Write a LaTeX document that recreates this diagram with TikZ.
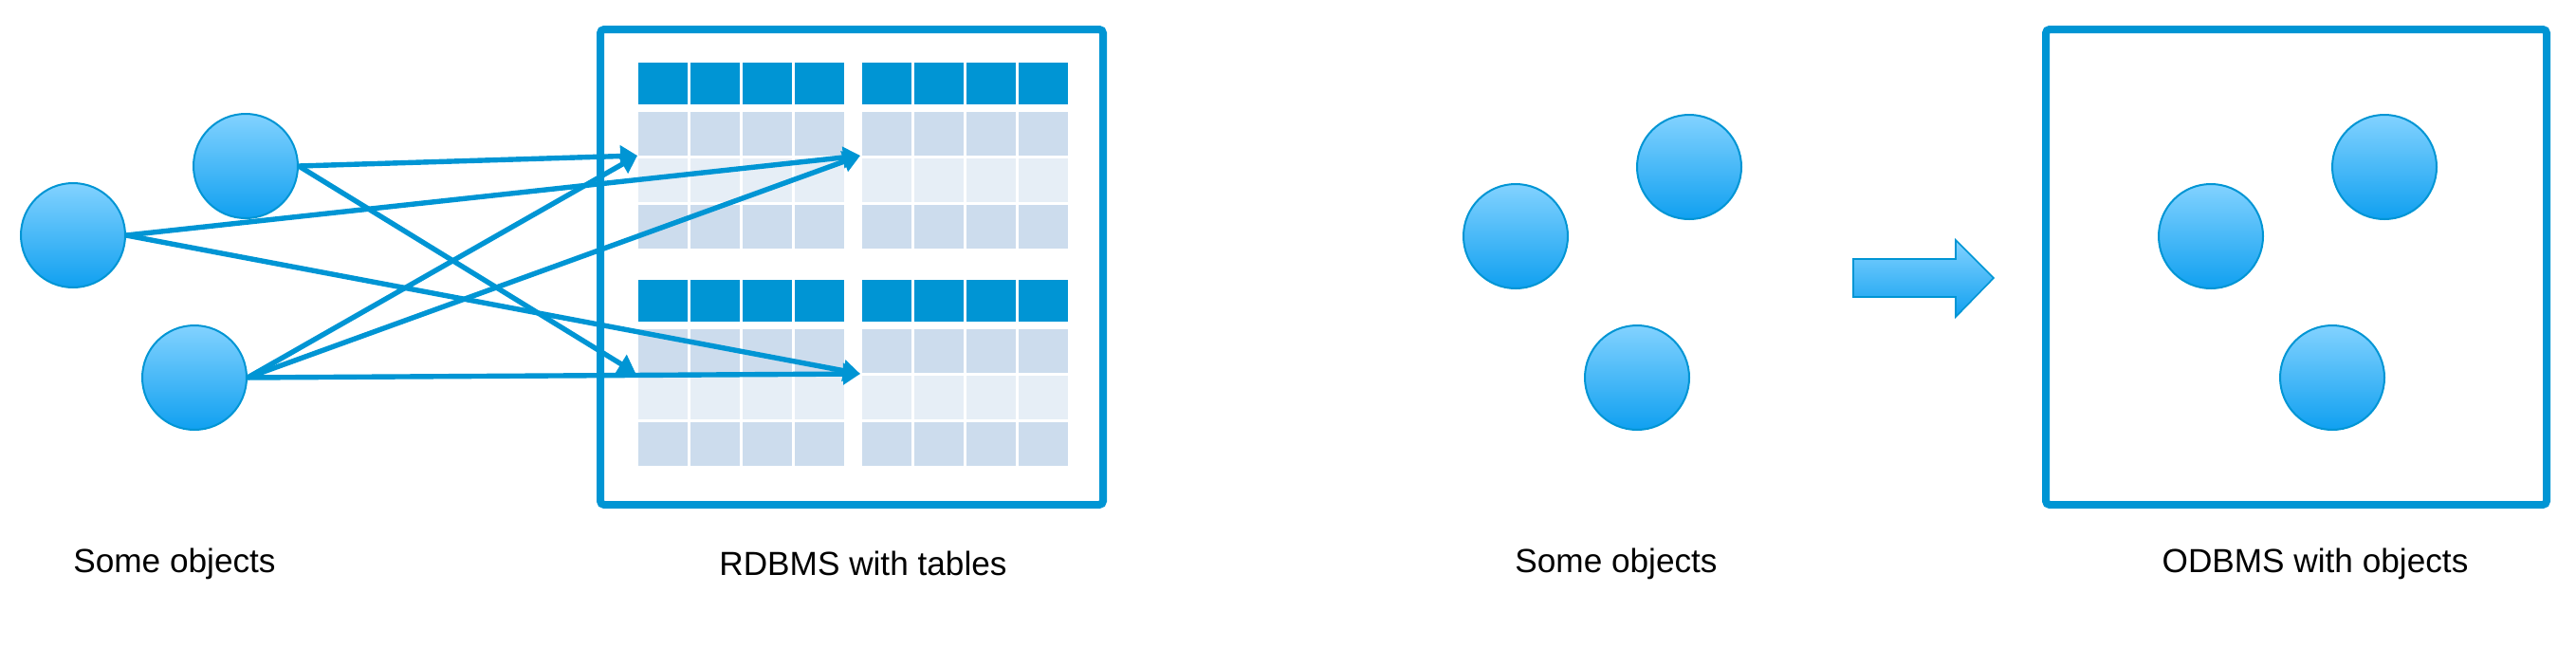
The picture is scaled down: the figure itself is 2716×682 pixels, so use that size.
\documentclass[tikz,border=0pt]{standalone}
\usepackage{fontspec}
\setmainfont{Liberation Sans}
\usepackage{xcolor}
\usetikzlibrary{arrows.meta}

\definecolor{dbblue}{RGB}{0,149,212}
\definecolor{rowdark}{RGB}{204,220,237}
\definecolor{rowlight}{RGB}{230,238,246}
\definecolor{objtop}{RGB}{130,210,255}
\definecolor{objbot}{RGB}{16,160,240}

\begin{document}
\begin{tikzpicture}[x=0.5pt, y=-0.5pt,
    obj/.style = {circle, draw=dbblue, line width=1pt, inner sep=0pt,
      minimum size=55pt, top color=objtop, bottom color=objbot},
    link/.style = {draw=dbblue, line width=2.7pt,
      -{Triangle[length=9pt,width=11pt]}},
    dbbox/.style = {draw=dbblue, line width=4pt, rounded corners=2pt},
    caption/.style = {font=\fontsize{17.6}{22}\selectfont}]
  \useasboundingbox (0,0) rectangle (2716,682);

  % tables
  \foreach \tx/\ty in {673/66, 909/66, 673/295, 909/295} {
    \foreach \c in {0,...,3} {
      \fill[dbblue] (\tx+55*\c,\ty) rectangle ++(52,44);
      \fill[rowdark] (\tx+55*\c,\ty+52) rectangle ++(52,46);
      \fill[rowlight] (\tx+55*\c,\ty+101) rectangle ++(52,46);
      \fill[rowdark] (\tx+55*\c,\ty+150) rectangle ++(52,46);
    }
  }
  \draw[dbbox] (633,31) rectangle (1163,532);
  \draw[dbbox] (2157,31) rectangle (2685,532);

  % objects
  \node[obj] (left) at (77,248) {};
  \node[obj] (top) at (259,175) {};
  \node[obj] (bottom) at (205,398) {};
  \node[obj] (freeA) at (1598,249) {};
  \node[obj] (freeB) at (1781,176) {};
  \node[obj] (freeC) at (1726,398) {};
  \node[obj] (dbA) at (2331,249) {};
  \node[obj] (dbB) at (2514,176) {};
  \node[obj] (dbC) at (2459,398) {};

  \coordinate (t1) at (672,164);
  \coordinate (t2) at (907,164);
  \coordinate (t3) at (670,393);
  \coordinate (t4) at (907,394);

  \draw[link] (top.east) -- (t1);
  \draw[link] (top.east) -- (t3);
  \draw[link] (left.east) -- (t2);
  \draw[link] (left.east) -- (t4);
  \draw[link] (bottom.east) -- (t1);
  \draw[link] (bottom.east) -- (t2);
  \draw[link] (bottom.east) -- (t4);

  % block arrow
  \draw[draw=dbblue, line width=0.8pt, top color=objtop, bottom color=objbot]
    (1954,273) -- (2062,273) -- (2062,253) -- (2102,293)
    -- (2062,334) -- (2062,313) -- (1954,313) -- cycle;

  \node[caption] (cap1) at (184,594) {Some objects};
  \node[caption] (cap2) at (910,594) {RDBMS with tables};
  \node[caption] (cap3) at (1704,594) {Some objects};
  \node[caption] (cap4) at (2441,594) {ODBMS with objects};
\end{tikzpicture}
\end{document}
